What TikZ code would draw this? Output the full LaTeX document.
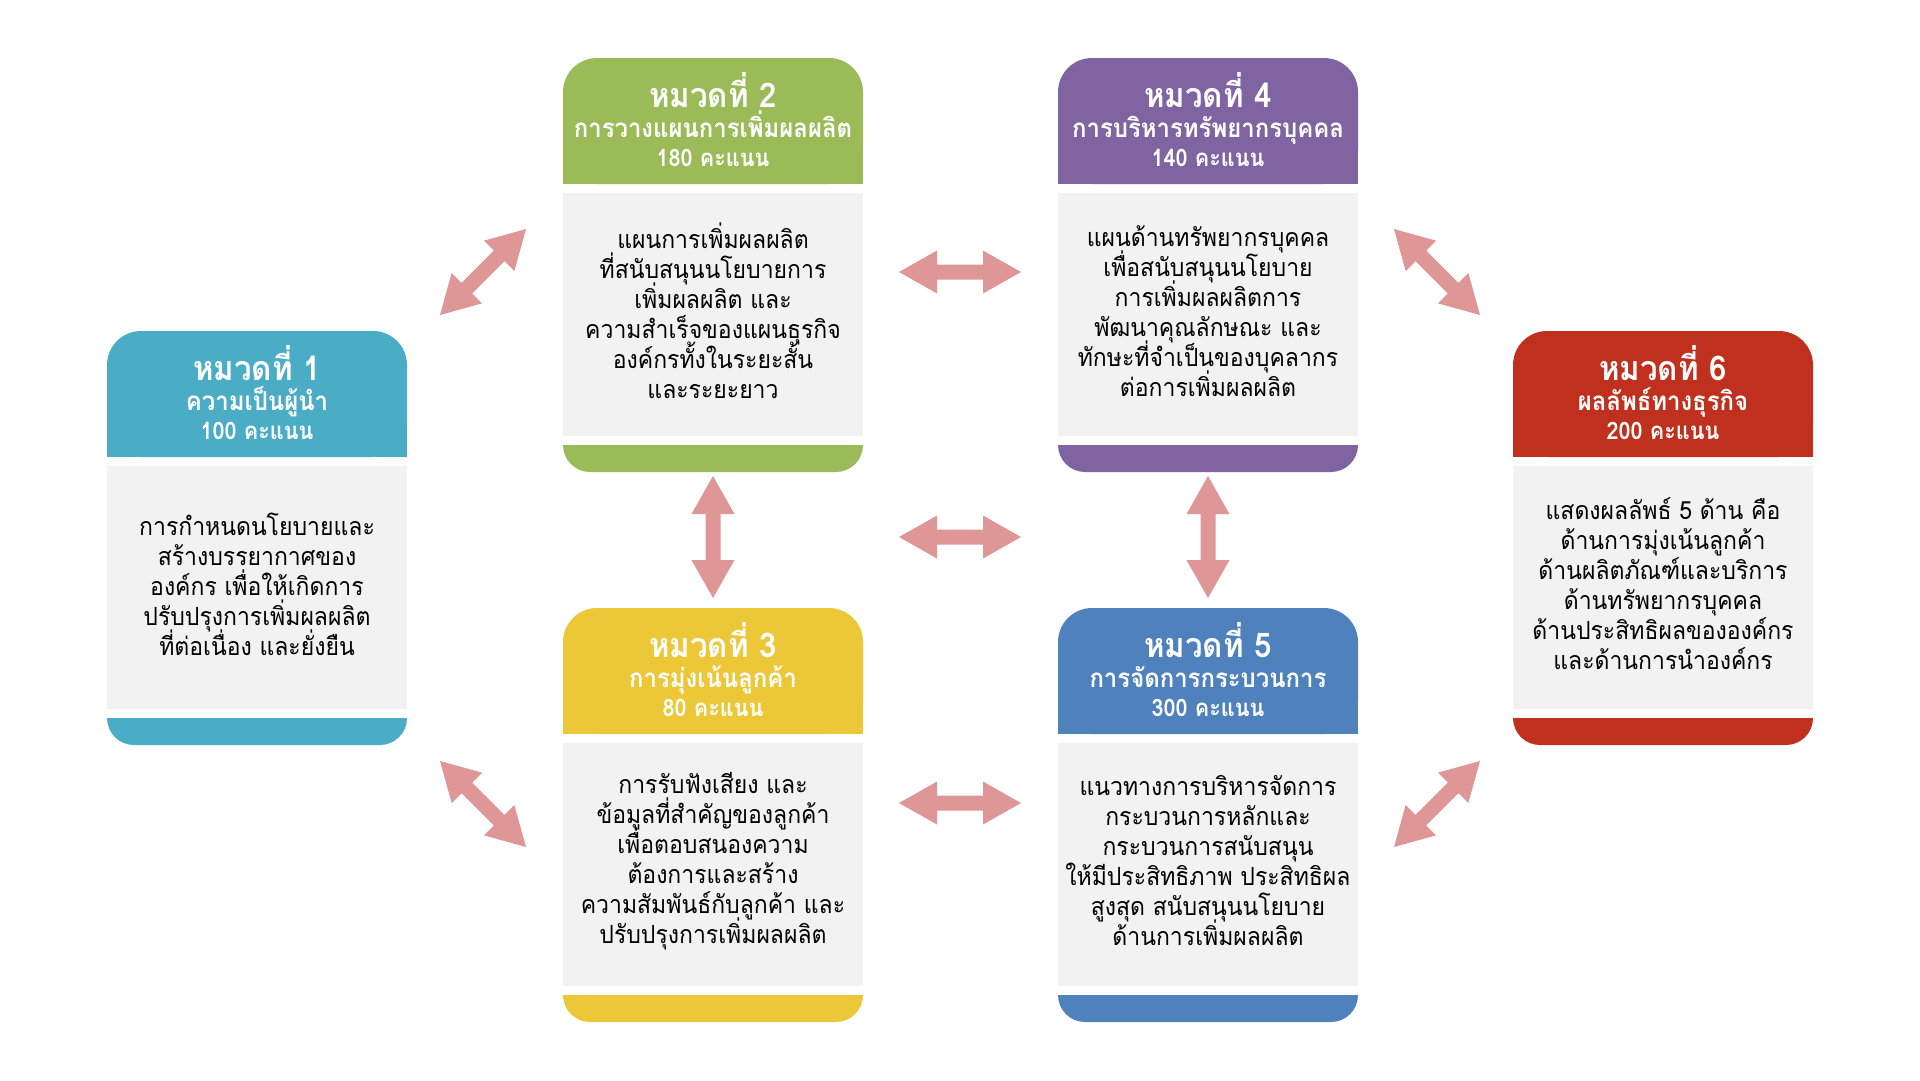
\documentclass[tikz,border=0pt]{standalone}
\usepackage{fontspec}
\usetikzlibrary{calc}
\newfontfamily\thai[Script=Thai,FakeStretch=0.92]{Loma}
\newfontfamily\thaiN[Script=Thai,FakeStretch=0.90]{Loma}
\newcommand\bodyfnt{\thai\fontsize{25}{30}\selectfont\lineskiplimit=-100pt\relax\lineskip=0pt\relax}
\definecolor{cA}{HTML}{4BACC6}
\definecolor{cB}{HTML}{9BBB59}
\definecolor{cC}{HTML}{ECC839}
\definecolor{cD}{HTML}{8064A2}
\definecolor{cE}{HTML}{4F81BD}
\definecolor{cF}{HTML}{C0301E}
\definecolor{bodygray}{HTML}{F2F2F2}
\definecolor{arrowpink}{HTML}{DE9696}
\tikzset{
  titletext/.style={text=white, inner sep=0pt, anchor=base, font=\thai\bfseries\fontsize{34}{34}\selectfont},
  subtext/.style={text=white, inner sep=0pt, anchor=base, font=\thai\bfseries\fontsize{26}{26}\selectfont},
  pointtext/.style={text=white, inner sep=0pt, anchor=base, font=\thaiN\bfseries\fontsize{24}{24}\selectfont},
  bodybox/.style={fill=bodygray, minimum width=300pt, minimum height=243pt, inner sep=0pt, align=center, text=black, font=\bodyfnt},
  bodytext/.style={inner sep=0pt, align=center, text=black, font=\bodyfnt},
  arrowfill/.style={fill=arrowpink}
}
\newcommand\card[8]{%
  \fill[#4, rounded corners=34pt] (#2,#3) rectangle ++(300,126);
  \fill[#4] (#2,#3+60) rectangle ++(300,66);
  \node[titletext] (#1t) at (#2+150,#3+49) {#5};
  \node[subtext] (#1s) at (#2+150,#3+79) {#6};
  \node[pointtext] (#1p) at (#2+150,#3+108) {#7};
  \node[bodybox] (#1b) at (#2+150,#3+256.5) {};
  \node[bodytext] (#1x) at (#2+150,#3+253) {#8};
  \begin{scope}
    \clip (#2,#3+387) rectangle ++(300,27);
    \fill[#4, rounded corners=27pt] (#2,#3+350) rectangle ++(300,64);
  \end{scope}
}
\newcommand\dblarr[2]{%
  \fill[arrowfill] (#1)
    -- ($(#1)!38pt!(#2)!21.5pt!90:(#2)$)
    -- ($(#1)!38pt!(#2)!7.5pt!90:(#2)$)
    -- ($(#2)!38pt!(#1)!7.5pt!-90:(#1)$)
    -- ($(#2)!38pt!(#1)!21.5pt!-90:(#1)$)
    -- (#2)
    -- ($(#2)!38pt!(#1)!21.5pt!90:(#1)$)
    -- ($(#2)!38pt!(#1)!7.5pt!90:(#1)$)
    -- ($(#1)!38pt!(#2)!7.5pt!-90:(#2)$)
    -- ($(#1)!38pt!(#2)!21.5pt!-90:(#2)$)
    -- cycle;
}
\begin{document}
\begin{tikzpicture}[x=1pt,y=-1pt]
\useasboundingbox[fill=white] (0,0) rectangle (1920,1080);

\card{k1}{107}{331}{cA}{หมวดที่ 1}{ความเป็นผู้นำ}{100 คะแนน}%
 {การกำหนดนโยบายและ\\สร้างบรรยากาศของ\\องค์กร เพื่อให้เกิดการ\\ปรับปรุงการเพิ่มผลผลิต\\ที่ต่อเนื่อง และยั่งยืน}
\card{k2}{563}{58}{cB}{หมวดที่ 2}{การวางแผนการเพิ่มผลผลิต}{180 คะแนน}%
 {แผนการเพิ่มผลผลิต\\ที่สนับสนุนนโยบายการ\\เพิ่มผลผลิต และ\\ความสำเร็จของแผนธุรกิจ\\องค์กรทั้งในระยะสั้น\\และระยะยาว}
\card{k3}{563}{608}{cC}{หมวดที่ 3}{การมุ่งเน้นลูกค้า}{80 คะแนน}%
 {การรับฟังเสียง และ\\ข้อมูลที่สำคัญของลูกค้า\\เพื่อตอบสนองความ\\ต้องการและสร้าง\\ความสัมพันธ์กับลูกค้า และ\\ปรับปรุงการเพิ่มผลผลิต}
\card{k4}{1058}{58}{cD}{หมวดที่ 4}{การบริหารทรัพยากรบุคคล}{140 คะแนน}%
 {แผนด้านทรัพยากรบุคคล\\เพื่อสนับสนุนนโยบาย\\การเพิ่มผลผลิตการ\\พัฒนาคุณลักษณะ และ\\ทักษะที่จำเป็นของบุคลากร\\ต่อการเพิ่มผลผลิต}
\card{k5}{1058}{608}{cE}{หมวดที่ 5}{การจัดการกระบวนการ}{300 คะแนน}%
 {แนวทางการบริหารจัดการ\\กระบวนการหลักและ\\กระบวนการสนับสนุน\\ให้มีประสิทธิภาพ ประสิทธิผล\\สูงสุด สนับสนุนนโยบาย\\ด้านการเพิ่มผลผลิต}
\card{k6}{1513}{331}{cF}{หมวดที่ 6}{ผลลัพธ์ทางธุรกิจ}{200 คะแนน}%
 {แสดงผลลัพธ์ 5 ด้าน คือ\\ด้านการมุ่งเน้นลูกค้า\\ด้านผลิตภัณฑ์และบริการ\\ด้านทรัพยากรบุคคล\\ด้านประสิทธิผลขององค์กร\\และด้านการนำองค์กร}

\coordinate (h1a) at (899,272);  \coordinate (h1b) at (1021,272);
\coordinate (h2a) at (899,537);  \coordinate (h2b) at (1021,537);
\coordinate (h3a) at (899,803);  \coordinate (h3b) at (1021,803);
\coordinate (v1a) at (713,476);  \coordinate (v1b) at (713,598);
\coordinate (v2a) at (1208,476); \coordinate (v2b) at (1208,598);
\coordinate (d1a) at (440,315);  \coordinate (d1b) at (526,229);
\coordinate (d2a) at (1394,229); \coordinate (d2b) at (1480,315);
\coordinate (d3a) at (440,761);  \coordinate (d3b) at (526,847);
\coordinate (d4a) at (1394,847); \coordinate (d4b) at (1480,761);
\dblarr{h1a}{h1b}
\dblarr{h2a}{h2b}
\dblarr{h3a}{h3b}
\dblarr{v1a}{v1b}
\dblarr{v2a}{v2b}
\dblarr{d1a}{d1b}
\dblarr{d2a}{d2b}
\dblarr{d3a}{d3b}
\dblarr{d4a}{d4b}
\end{tikzpicture}
\end{document}
